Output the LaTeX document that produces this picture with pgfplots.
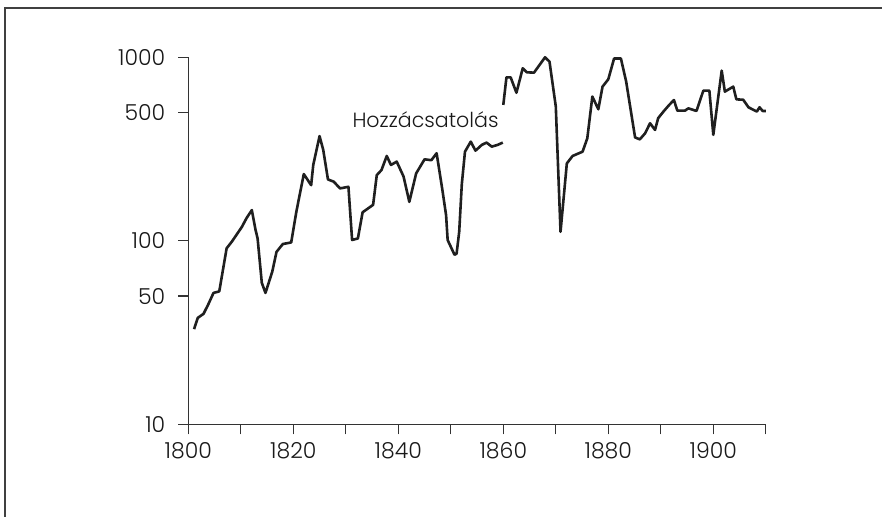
\documentclass[border=0pt]{standalone}
\usepackage{pgfplots}
\pgfplotsset{compat=1.18}
\usepackage{fontspec}
\setmainfont{Poppins}[UprightFont=* Light, Numbers=Monospaced]
\begin{document}
\begin{tikzpicture}
\useasboundingbox (0,0) rectangle (441bp,258.5bp);
% frame (top and left only)
\draw[line width=0.8bp, black!75] (2.5bp,0) -- (2.5bp,254.5bp) -- (441bp,254.5bp);
\begin{axis}[
    at={(94.15bp,46.35bp)}, anchor=south west,
    width=288.75bp, height=183.5bp, scale only axis,
    xmin=1800, xmax=1910,
    ymin=10, ymax=1000,
    ymode=log,
    axis x line*=bottom, axis y line*=left,
    axis line style={line width=0.6bp, black!80},
    tick style={line width=0.6bp, black!80},
    tick align=outside,
    major tick length=5bp,
    minor tick length=0pt,
    xtick={1800,1810,...,1910},
    xticklabels={1800,,1820,,1840,,1860,,1880,,1900,},
    ytick={10,50,100,500,1000},
    yticklabels={10,50,100,500,1000},
    tick label style={font=\fontsize{11bp}{13bp}\selectfont, text=black!90},
    yticklabel style={xshift=-3bp},
    xticklabel style={yshift=-0.5bp},
    clip=false,
]
\addplot[line width=1.3bp, black!88, line join=round] coordinates {
(1801.1,33) (1801.8,38) (1802.9,40) (1803.8,45) (1804.8,52) (1805.9,53)
(1807.3,91) (1808.3,99) (1809.2,108) (1810.2,119) (1811.1,133) (1812.1,147)
(1812.8,115) (1813.2,103) (1814.0,59) (1814.7,52) (1816.0,68) (1816.8,87)
(1818.0,96) (1819.6,98) (1820.6,145) (1822.0,231) (1823.4,201) (1823.8,259)
(1825.0,372) (1825.7,313) (1826.6,216) (1827.7,210) (1828.9,193) (1830.5,197)
(1831.2,101) (1832.3,103) (1833.2,143) (1835.2,157) (1835.9,228) (1836.8,243)
(1837.8,290) (1838.6,259) (1839.7,270) (1841.0,224) (1842.1,163) (1843.4,233)
(1845.0,278) (1846.3,275) (1847.3,300) (1848.4,189) (1849.1,138) (1849.4,101)
(1850.7,84) (1851.1,85) (1851.6,112) (1852.1,204) (1852.7,306) (1853.8,347)
(1854.7,310) (1855.9,333) (1856.8,343) (1857.8,326) (1858.9,333) (1859.9,343)
};
\addplot[line width=1.3bp, black!88, line join=round] coordinates {
(1860.0,550) (1860.6,778) (1861.4,778) (1862.5,641) (1863.7,871) (1864.5,828)
(1865.85,825) (1867.95,1000) (1868.8,947) (1870.0,539) (1870.9,112) (1872.1,264)
(1873.2,290) (1875.1,306) (1876.0,362) (1876.96,611) (1878.1,521) (1878.9,692)
(1880.0,759) (1881.1,985) (1882.4,985) (1883.4,738) (1885.1,366) (1886.0,357)
(1887.0,385) (1887.95,437) (1888.9,402) (1889.5,466) (1890.5,506) (1891.6,550)
(1892.5,585) (1893.15,512) (1894.6,512) (1895.25,527) (1896.8,510) (1898.1,658)
(1899.25,658) (1900.0,378) (1901.6,846) (1902.2,650) (1903.8,692) (1904.4,590)
(1905.7,587) (1906.7,534) (1908.3,506) (1908.8,534) (1909.4,510) (1910.0,510)
};
\node[anchor=west, inner sep=0pt, font=\fontsize{10.3bp}{12bp}\selectfont, text=black!90]
    at (axis cs:1831.2,455) {Hozzácsatolás};
\end{axis}
\end{tikzpicture}
\end{document}
